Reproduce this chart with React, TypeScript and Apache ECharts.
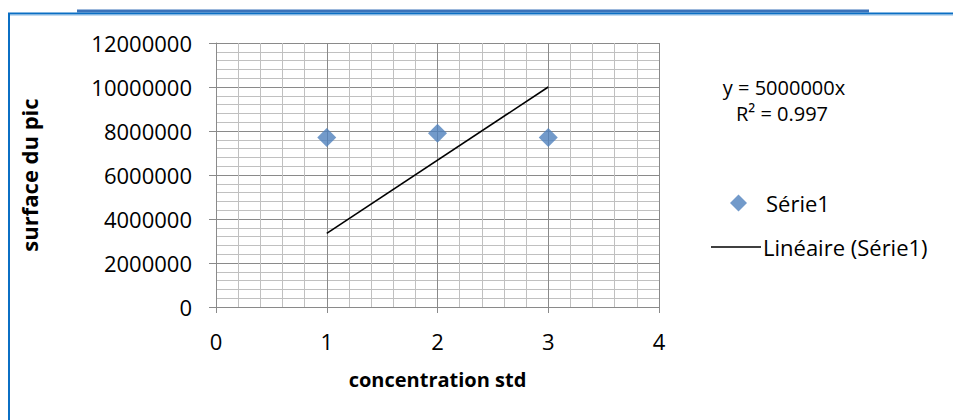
import React, { useEffect, useRef } from "react";
import * as echarts from "echarts";

const seriesName = "Série1";
const trendName = "Linéaire (Série1)";
const xValues = [1, 2, 3];
const yValues = [7700000, 7900000, 7700000];
const trendX = [1, 3];
const trendY = [3350000, 10000000];
const equationText = "y = 5000000x";
const r2Text = "R² = 0.997";
const xAxisTitle = "concentration std";
const yAxisTitle = "surface du pic";

const FONT = "'Open Sans', 'Noto Sans', sans-serif";

export default function App() {
  const ref = useRef<HTMLDivElement>(null);
  useEffect(() => {
    if (!ref.current) return;
    const chart = echarts.init(ref.current, undefined, { renderer: "svg" });
    const scatterData = xValues.map((x, i) => [x, yValues[i]]);
    const trendData = trendX.map((x, i) => [x, trendY[i]]);
    chart.setOption({
      animation: false,
      backgroundColor: "#ffffff",
      textStyle: { fontFamily: FONT },
      grid: { left: 216, right: 294, top: 43, bottom: 113, containLabel: false },
      xAxis: {
        type: "value",
        min: 0,
        max: 4,
        interval: 1,
        name: xAxisTitle,
        nameLocation: "middle",
        nameGap: 62,
        nameTextStyle: { fontFamily: FONT, fontSize: 20, fontWeight: "bold", color: "#000" },
        axisLine: { show: true, onZero: false, lineStyle: { color: "#8a8a8a", width: 1 } },
        axisTick: { show: true, length: 6, lineStyle: { color: "#8a8a8a" } },
        axisLabel: { fontFamily: FONT, fontSize: 22, color: "#000", margin: 23 },
        splitLine: { show: true, lineStyle: { color: "#8a8a8a", width: 1 } },
        minorTick: { show: false, splitNumber: 5 },
        minorSplitLine: { show: true, lineStyle: { color: "#c0c0c0", width: 1 } },
      },
      yAxis: {
        type: "value",
        min: 0,
        max: 12000000,
        interval: 2000000,
        name: yAxisTitle,
        nameLocation: "middle",
        nameRotate: 90,
        nameGap: 176,
        nameTextStyle: { fontFamily: FONT, fontSize: 22, fontWeight: "bold", color: "#000" },
        axisLine: { show: true, onZero: false, lineStyle: { color: "#8a8a8a", width: 1 } },
        axisTick: { show: true, length: 7, lineStyle: { color: "#8a8a8a" } },
        axisLabel: {
          fontFamily: FONT,
          fontSize: 22,
          color: "#000",
          margin: 24,
          formatter: (v: number) => String(v),
        },
        splitLine: { show: true, lineStyle: { color: "#8a8a8a", width: 1 } },
        minorTick: { show: false, splitNumber: 5 },
        minorSplitLine: { show: true, lineStyle: { color: "#c0c0c0", width: 1 } },
      },
      legend: [
        {
          data: [{ name: seriesName, icon: "diamond" }],
          orient: "vertical",
          left: 725,
          top: 187,
          itemWidth: 17,
          itemHeight: 17,
          textStyle: { fontFamily: FONT, fontSize: 22, color: "#000", padding: [0, 0, 0, 14] },
        },
        {
          data: [{ name: trendName, icon: "rect", itemStyle: { color: "#000" } }],
          orient: "vertical",
          left: 706,
          top: 231,
          itemWidth: 50,
          itemHeight: 1.6,
          textStyle: { fontFamily: FONT, fontSize: 22, color: "#000", padding: [0, 0, 0, -3] },
        },
      ],
      graphic: [
        { type: "line", shape: { x1: 77, y1: 11, x2: 869, y2: 11 }, style: { stroke: "#3b73ba", lineWidth: 3 } },
        { type: "line", shape: { x1: 8, y1: 13.5, x2: 953, y2: 13.5 }, style: { stroke: "#0b6fc4", lineWidth: 2 } },
        { type: "line", shape: { x1: 10, y1: 15.5, x2: 953, y2: 15.5 }, style: { stroke: "#c3dbf1", lineWidth: 1 } },
        { type: "line", shape: { x1: 9, y1: 13, x2: 9, y2: 420 }, style: { stroke: "#0b6fc4", lineWidth: 2 } },
        {
          type: "text",
          x: 784,
          y: 87,
          style: {
            text: equationText,
            fontFamily: FONT,
            fontSize: 20,
            lineHeight: 21,
            fill: "#000",
            align: "center",
            verticalAlign: "middle",
          },
        },
        {
          type: "text",
          x: 782,
          y: 113,
          style: {
            text: r2Text,
            fontFamily: FONT,
            fontSize: 20,
            lineHeight: 21,
            fill: "#000",
            align: "center",
            verticalAlign: "middle",
          },
        },
      ],
      series: [
        {
          name: seriesName,
          type: "scatter",
          data: scatterData,
          symbol: "diamond",
          symbolSize: 19,
          itemStyle: { color: "#4f81bd" },
          z: 3,
        },
        {
          name: trendName,
          type: "line",
          data: trendData,
          symbol: "none",
          showSymbol: false,
          lineStyle: { color: "#000", width: 1.6 },
          itemStyle: { color: "#000" },
          z: 2,
        },
      ],
    });
    return () => chart.dispose();
  }, []);
  return (
    <div
      ref={ref}
      style={{ position: "fixed", left: 0, top: 0, width: 953, height: 420, background: "#fff" }}
    />
  );
}
